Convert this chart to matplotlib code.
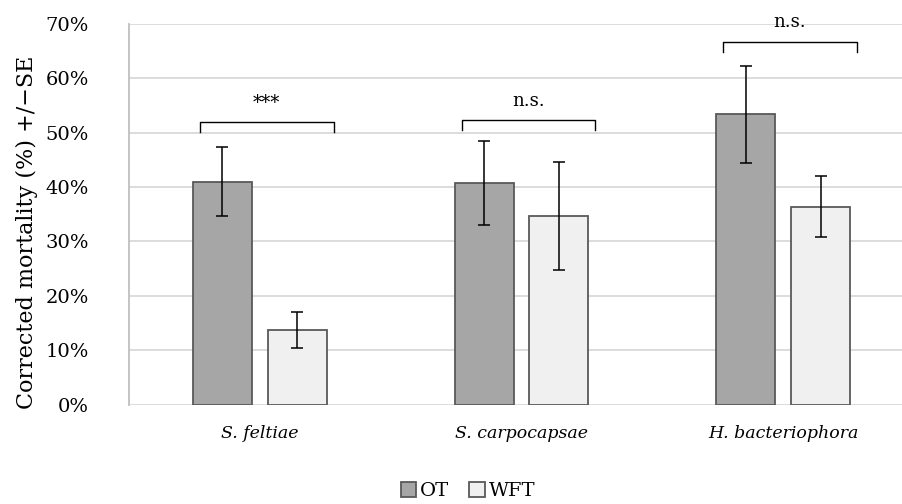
import numpy as np
import matplotlib
matplotlib.use('Agg')
from matplotlib import pyplot as plt

species = ['S. feltiae', 'S. carpocapsae', 'H. bacteriophora']
ot_mean = [41.0, 40.7, 53.4]
ot_se = [6.3, 7.7, 8.9]
wft_mean = [13.7, 34.7, 36.4]
wft_se = [3.3, 9.9, 5.6]
labels = ['OT', 'WFT']

sig_text = ['***', 'n.s.', 'n.s.']
sig_top = [51.9, 52.3, 66.7]
sig_bottom = [50.1, 50.5, 64.8]

plt.rcParams['font.family'] = ['DejaVu Serif']

fig = plt.figure(figsize=(9.02, 5.04), dpi=100)
ax = fig.add_axes([129 / 902, 1 - 404.5 / 504, 785 / 902, 380.5 / 504])

x = np.arange(len(species))
w = 0.225
off = 0.143
b1 = ax.bar(x - off, ot_mean, w, color='#a6a6a6', edgecolor='#595959', linewidth=1.3,
            label=labels[0], zorder=3)
b2 = ax.bar(x + off, wft_mean, w, color='#f0f0f0', edgecolor='#595959', linewidth=1.3,
            label=labels[1], zorder=3)
ax.errorbar(x - off, ot_mean, yerr=ot_se, fmt='none', ecolor='black', elinewidth=1.1,
            capsize=4.3, capthick=1.1, zorder=4)
ax.errorbar(x + off, wft_mean, yerr=wft_se, fmt='none', ecolor='black', elinewidth=1.1,
            capsize=4.3, capthick=1.1, zorder=4)

# significance brackets
for i in range(len(species)):
    xl, xr = x[i] - 0.229, x[i] + 0.282
    ax.plot([xl, xl, xr, xr], [sig_bottom[i], sig_top[i], sig_top[i], sig_bottom[i]],
            color='black', lw=1.0, zorder=5, clip_on=False)
    ax.text((xl + xr) / 2, sig_top[i] + 3.6, sig_text[i], ha='center', va='center',
            fontsize=13, clip_on=False)

ax.set_xlim(-0.5, 2.5)
ax.set_ylim(0, 70)
ax.set_yticks(np.arange(0, 71, 10))
ax.set_yticklabels([f'{v}%' for v in range(0, 71, 10)], fontsize=14)
ax.set_xticks(x)
ax.set_xticklabels(species, fontsize=12.5, style='italic')
ax.tick_params(length=0)
ax.tick_params(axis='y', pad=29)
ax.tick_params(axis='x', pad=15)
ax.yaxis.grid(True, color='#d9d9d9', lw=1.3, zorder=0)
for s in ['top', 'right', 'bottom']:
    ax.spines[s].set_visible(False)
ax.spines['left'].set_color('#bfbfbf')
ax.spines['left'].set_linewidth(1.3)
ax.set_ylabel('Corrected mortality (%) +/\u2212SE', fontsize=16)
ax.yaxis.set_label_coords(-91 / 785, 0.453)

fig.legend(handles=[b1, b2], loc='center', bbox_to_anchor=(468 / 902, 1 - 491 / 504),
           ncol=2, frameon=False, fontsize=14, handlelength=0.8, handleheight=0.8,
           handletextpad=0.2, columnspacing=1.0)

fig.savefig('out.png', dpi=100)
